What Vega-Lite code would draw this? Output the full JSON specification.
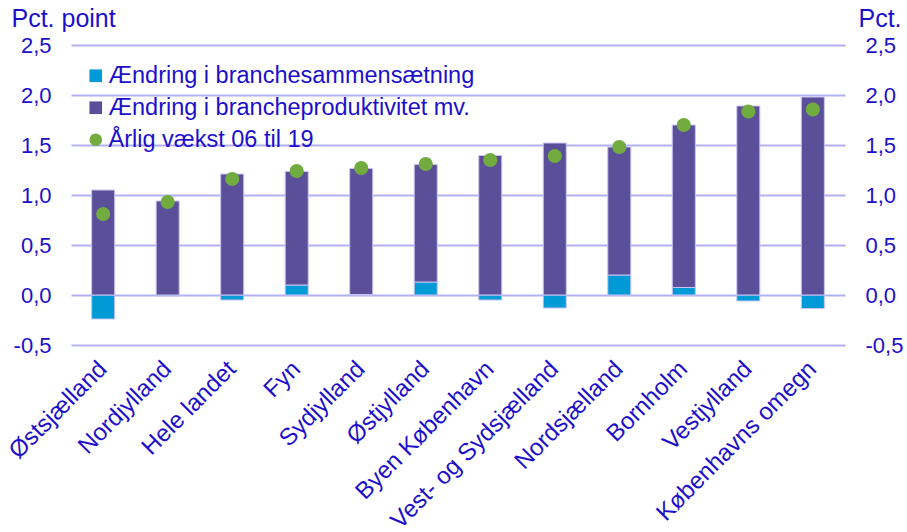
{
  "$schema": "https://vega.github.io/schema/vega-lite/v6.json",
  "width": 774,
  "height": 300,
  "autosize": {"type": "none"},
  "padding": {"left": 71, "top": 45, "right": 62, "bottom": 187},
  "background": "white",
  "config": {
    "view": {"stroke": null},
    "font": "Liberation Sans",
    "axis": {"labelColor": "#1C0FCB", "titleColor": "#1C0FCB", "labelFont": "Liberation Sans", "titleFont": "Liberation Sans", "titleFontWeight": "normal"},
    "legend": {"labelColor": "#1C0FCB", "labelFont": "Liberation Sans"}
  },
  "datasets": {
    "bars": [
      {"region": "Østsjælland", "series": "Ændring i branchesammensætning", "rank": 1, "value": -0.24},
      {"region": "Østsjælland", "series": "Ændring i brancheproduktivitet mv.", "rank": 2, "value": 1.05},
      {"region": "Nordjylland", "series": "Ændring i branchesammensætning", "rank": 1, "value": -0.01},
      {"region": "Nordjylland", "series": "Ændring i brancheproduktivitet mv.", "rank": 2, "value": 0.94},
      {"region": "Hele landet", "series": "Ændring i branchesammensætning", "rank": 1, "value": -0.05},
      {"region": "Hele landet", "series": "Ændring i brancheproduktivitet mv.", "rank": 2, "value": 1.21},
      {"region": "Fyn", "series": "Ændring i branchesammensætning", "rank": 1, "value": 0.10},
      {"region": "Fyn", "series": "Ændring i brancheproduktivitet mv.", "rank": 2, "value": 1.135},
      {"region": "Sydjylland", "series": "Ændring i branchesammensætning", "rank": 1, "value": 0.005},
      {"region": "Sydjylland", "series": "Ændring i brancheproduktivitet mv.", "rank": 2, "value": 1.26},
      {"region": "Østjylland", "series": "Ændring i branchesammensætning", "rank": 1, "value": 0.13},
      {"region": "Østjylland", "series": "Ændring i brancheproduktivitet mv.", "rank": 2, "value": 1.175},
      {"region": "Byen København", "series": "Ændring i branchesammensætning", "rank": 1, "value": -0.05},
      {"region": "Byen København", "series": "Ændring i brancheproduktivitet mv.", "rank": 2, "value": 1.395},
      {"region": "Vest- og Sydsjælland", "series": "Ændring i branchesammensætning", "rank": 1, "value": -0.13},
      {"region": "Vest- og Sydsjælland", "series": "Ændring i brancheproduktivitet mv.", "rank": 2, "value": 1.52},
      {"region": "Nordsjælland", "series": "Ændring i branchesammensætning", "rank": 1, "value": 0.20},
      {"region": "Nordsjælland", "series": "Ændring i brancheproduktivitet mv.", "rank": 2, "value": 1.28},
      {"region": "Bornholm", "series": "Ændring i branchesammensætning", "rank": 1, "value": 0.075},
      {"region": "Bornholm", "series": "Ændring i brancheproduktivitet mv.", "rank": 2, "value": 1.625},
      {"region": "Vestjylland", "series": "Ændring i branchesammensætning", "rank": 1, "value": -0.06},
      {"region": "Vestjylland", "series": "Ændring i brancheproduktivitet mv.", "rank": 2, "value": 1.89},
      {"region": "Københavns omegn", "series": "Ændring i branchesammensætning", "rank": 1, "value": -0.135},
      {"region": "Københavns omegn", "series": "Ændring i brancheproduktivitet mv.", "rank": 2, "value": 1.98}
    ],
    "dots": [
      {"region": "Østsjælland", "series": "Årlig vækst 06 til 19", "value": 0.81},
      {"region": "Nordjylland", "series": "Årlig vækst 06 til 19", "value": 0.93},
      {"region": "Hele landet", "series": "Årlig vækst 06 til 19", "value": 1.16},
      {"region": "Fyn", "series": "Årlig vækst 06 til 19", "value": 1.24},
      {"region": "Sydjylland", "series": "Årlig vækst 06 til 19", "value": 1.27},
      {"region": "Østjylland", "series": "Årlig vækst 06 til 19", "value": 1.31},
      {"region": "Byen København", "series": "Årlig vækst 06 til 19", "value": 1.35},
      {"region": "Vest- og Sydsjælland", "series": "Årlig vækst 06 til 19", "value": 1.39},
      {"region": "Nordsjælland", "series": "Årlig vækst 06 til 19", "value": 1.48},
      {"region": "Bornholm", "series": "Årlig vækst 06 til 19", "value": 1.70},
      {"region": "Vestjylland", "series": "Årlig vækst 06 til 19", "value": 1.835},
      {"region": "Københavns omegn", "series": "Årlig vækst 06 til 19", "value": 1.855}
    ]
  },
  "layer": [
    {
      "data": {"name": "bars"},
      "mark": {"type": "bar", "stroke": "#C9C3F2", "strokeWidth": 1},
      "encoding": {
        "x": {
          "field": "region", "type": "nominal",
          "sort": ["Østsjælland", "Nordjylland", "Hele landet", "Fyn", "Sydjylland", "Østjylland", "Byen København", "Vest- og Sydsjælland", "Nordsjælland", "Bornholm", "Vestjylland", "Københavns omegn"],
          "scale": {"paddingInner": 0.643, "paddingOuter": 0.32},
          "axis": {"title": null, "domain": false, "ticks": false, "labelAngle": -45, "labelAlign": "right", "labelBaseline": "middle", "labelFontSize": 24, "labelPadding": 20, "labelLimit": 400}
        },
        "y": {
          "field": "value", "type": "quantitative", "stack": "zero",
          "scale": {"domain": [-0.5, 2.5], "nice": false, "zero": false},
          "axis": {
            "orient": "left", "values": [-0.5, 0, 0.5, 1, 1.5, 2, 2.5],
            "labelExpr": "replace(replace(format(datum.value, '.1f'), '.', ','), '\u2212', '-')",
            "domain": false, "ticks": false, "grid": true, "gridColor": "#B4B0F6", "gridWidth": 1.8,
            "labelFontSize": 22, "labelPadding": 20,
            "title": "Pct. point", "titleAngle": 0, "titleAlign": "left", "titleBaseline": "alphabetic",
            "titleX": -60, "titleY": -19, "titleFontSize": 25
          }
        },
        "color": {
          "field": "series", "type": "nominal",
          "scale": {"domain": ["Ændring i branchesammensætning", "Ændring i brancheproduktivitet mv.", "Årlig vækst 06 til 19"], "range": ["#009BD7", "#5B4F9A", "#72AC40"]},
          "legend": {
            "title": null, "orient": "none", "legendX": 13, "legendY": 19,
            "labelFontSize": 23.5, "labelOffset": 1, "rowPadding": 7, "symbolSize": 160, "symbolStrokeWidth": 0, "symbolOpacity": 1, "labelLimit": 500
          }
        },
        "order": {"field": "rank", "type": "quantitative"}
      }
    },
    {
      "data": {"name": "dots"},
      "mark": {"type": "point", "filled": true, "opacity": 1, "size": 200},
      "encoding": {
        "x": {
          "field": "region", "type": "nominal",
          "sort": ["Østsjælland", "Nordjylland", "Hele landet", "Fyn", "Sydjylland", "Østjylland", "Byen København", "Vest- og Sydsjælland", "Nordsjælland", "Bornholm", "Vestjylland", "Københavns omegn"]
        },
        "y": {
          "field": "value", "type": "quantitative",
          "axis": {
            "orient": "right", "values": [-0.5, 0, 0.5, 1, 1.5, 2, 2.5],
            "labelExpr": "replace(replace(format(datum.value, '.1f'), '.', ','), '\u2212', '-')",
            "domain": false, "ticks": false, "grid": false,
            "labelFontSize": 22, "labelPadding": 20,
            "title": "Pct.", "titleAngle": 0, "titleAlign": "left", "titleBaseline": "alphabetic",
            "titleX": 13, "titleY": -19, "titleFontSize": 25
          }
        },
        "color": {"field": "series", "type": "nominal"},
        "shape": {
          "field": "series", "type": "nominal",
          "scale": {"domain": ["Ændring i branchesammensætning", "Ændring i brancheproduktivitet mv.", "Årlig vækst 06 til 19"], "range": ["square", "square", "circle"]}
        }
      }
    }
  ],
  "resolve": {"axis": {"y": "independent"}}
}
